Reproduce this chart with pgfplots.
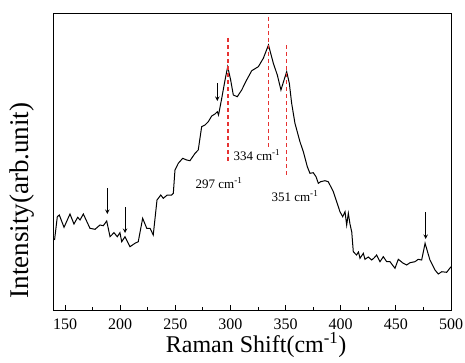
\documentclass[border=0pt]{standalone}
\usepackage{fontspec}
\setmainfont{Liberation Serif}
\usepackage{pgfplots}
\pgfplotsset{compat=1.18}
\definecolor{peakred}{RGB}{230,50,50}
\begin{document}
\begin{tikzpicture}
\begin{axis}[
  scale only axis, width=397pt, height=296pt,
  xmin=140, xmax=500, ymin=0, ymax=296,
  xtick={150,200,...,500}, minor x tick num=1,
  ytick=\empty,
  xtick pos=bottom, tick align=inside,
  major tick length=5pt, minor tick length=3pt,
  tick style={line width=0.8pt, black},
  axis line style={line width=1pt},
  tick label style={font=\fontsize{16}{18}\selectfont},
  xticklabel style={yshift=-5pt},
  /pgf/number format/assume math mode=true,
  xlabel={Raman Shift(cm\textsuperscript{-1})},
  ylabel={Intensity(arb.unit)},
  xlabel style={font=\fontsize{24}{27}\selectfont, at={(axis description cs:0.509,-0.118)}, anchor=center},
  ylabel style={font=\fontsize{27}{30}\selectfont, at={(axis description cs:-0.080,0.37)}, anchor=center},
  clip=false,
]
\addplot[black, line width=1pt] coordinates {
(140.5,70) (143.0,93.3) (144.8,95) (149.1,82.7) (154.5,96) (158.1,86) (161.5,92.7) (163.6,90)
(166.6,96) (172.6,81.7) (177.2,80.7) (181.7,85) (184.7,84.3) (187.8,89) (190.8,73.3) (194.4,77.3)
(197.4,73.3) (199.8,77.3) (201.4,68.3) (204.4,73.3) (208.9,63.3) (213.4,66.7) (216.4,68.3)
(220.4,91.7) (224.1,81.7) (227.1,81.7) (230.0,75) (233.4,110) (236.8,115) (239.1,111.7)
(242.7,115) (246.7,115) (248.2,116.7) (249.7,140) (252.7,146.7) (256.7,151.7) (260.3,150)
(263.3,149.3) (267.9,156.7) (270.8,160) (273.9,183.3) (276.9,185) (279.9,188.3) (283.0,194)
(286.0,196) (288.1,198.3) (289.2,195) (292.1,211.7) (295.1,230) (297.5,243.3) (300.2,230)
(302.6,215) (306.2,213.3) (310.2,220) (314.7,230) (319.3,239.3) (325.3,243.3) (329.8,251.7)
(334.5,265) (338.9,246.7) (342.5,235) (345.8,220) (348.6,230) (351.0,238.3) (353.4,226.7)
(355.5,206.7) (358.5,186.7) (363.1,168) (366.1,158.3) (369.7,143.3) (372.1,136.7) (375.1,137.3)
(377.6,133.3) (379.7,126.7) (381.8,128.3) (385.7,129.3) (388.7,128.3) (393.3,118.3) (396.3,108.3)
(399.3,98.3) (401.8,93.3) (403.9,98.3) (405.4,85) (406.9,96.7) (408.4,86) (410.0,78) (411.4,58.3)
(414.3,55) (416.1,58) (417.5,51.7) (420.5,56.7) (422.0,50.7) (425.0,53) (428.1,50) (430.2,52)
(432.6,55) (435.6,48.3) (438.6,53.3) (441.7,48.3) (444.7,48.3) (449.2,41.7) (452.2,50.7)
(456.7,46.7) (459.8,45) (462.8,47.3) (467.3,48.3) (470.3,50.7) (473.4,50) (476.5,66.7)
(480.9,50) (485.5,40) (488.5,36) (491.6,38.3) (496.1,37.7) (500,43.3)
};
% red dashed peak markers
\addplot[peakred, line width=1.3pt, dash pattern=on 4pt off 3pt] coordinates {(297.8,272) (297.8,148)};
\addplot[peakred, line width=1.3pt, dash pattern=on 4pt off 3pt] coordinates {(334.5,293) (334.5,162)};
\addplot[peakred, line width=1.3pt, dash pattern=on 4pt off 3pt] coordinates {(351.0,265) (351.0,135)};
% arrows
\addplot[black, line width=1pt, -stealth] coordinates {(188.3,122) (188.3,96)};
\addplot[black, line width=1pt, -stealth] coordinates {(204.4,103) (204.4,77)};
\addplot[black, line width=1pt, -stealth] coordinates {(288.1,227) (288.1,209)};
\addplot[black, line width=1pt, -stealth] coordinates {(477.0,98) (477.0,71)};
% labels
\node[font=\fontsize{13}{15}\selectfont] at (axis cs:289.6,127) {297 cm\textsuperscript{-1}};
\node[font=\fontsize{13}{15}\selectfont] at (axis cs:324,155) {334 cm\textsuperscript{-1}};
\node[font=\fontsize{13}{15}\selectfont] at (axis cs:358.5,114) {351 cm\textsuperscript{-1}};
\end{axis}
\pgfresetboundingbox
\path (-54pt,-52pt) rectangle (411pt,310pt);
\end{tikzpicture}
\end{document}
